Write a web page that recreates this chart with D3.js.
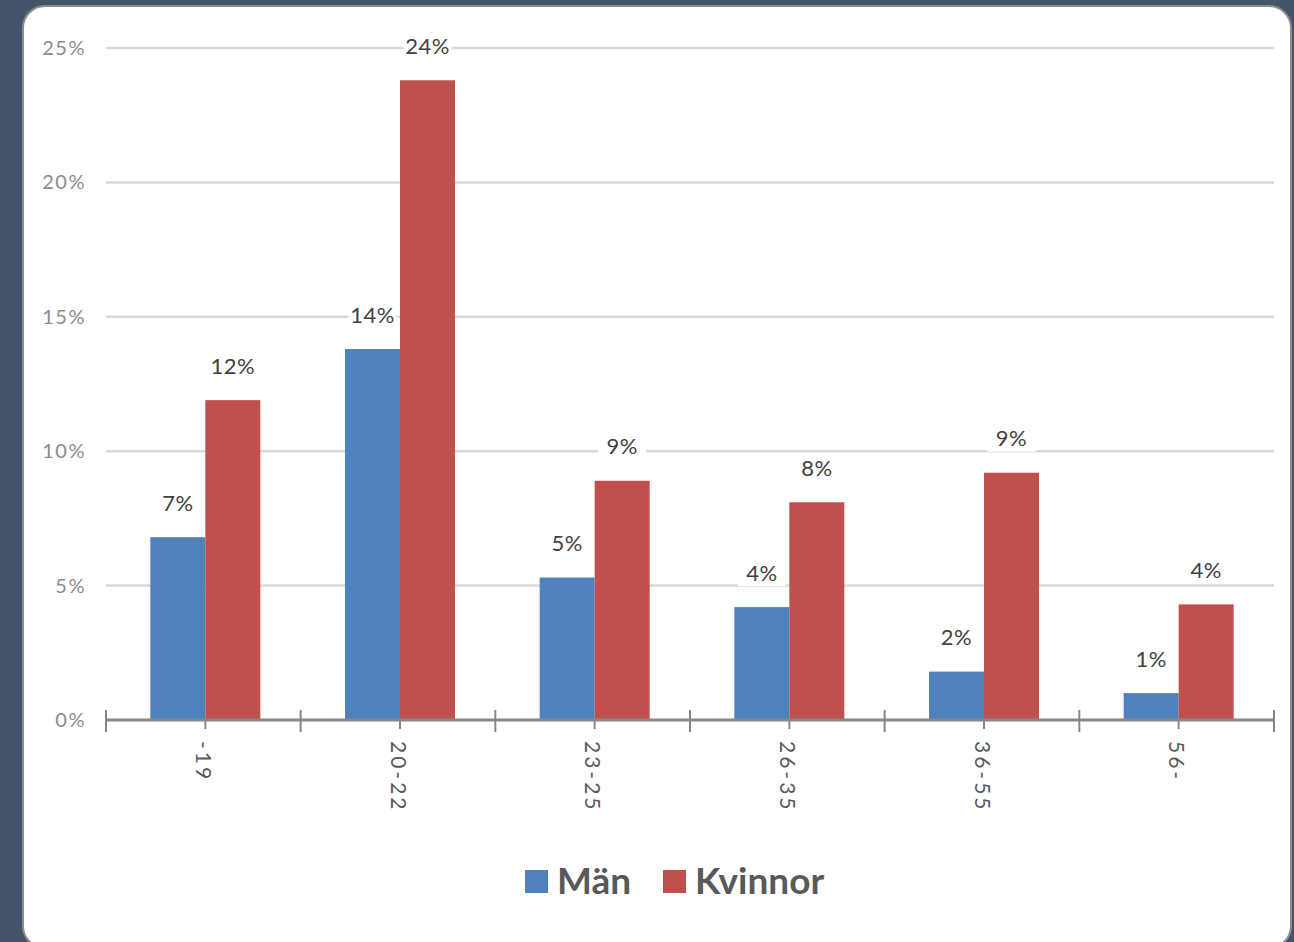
<!DOCTYPE html>
<html>
<head>
<meta charset="utf-8">
<script src="https://cdn.jsdelivr.net/npm/d3@7"></script>
<style>
	html, body { margin:0; padding:0; background:#44546a; }
	svg { display:block; }
</style>
</head>
<body>
<div id="chart"></div>
<script>
	// Data
	var categories = ['-19','20-22','23-25','26-35','36-55','56-'];
	var serieNames = ['Män','Kvinnor'];
	var manValues = [6.8, 13.8, 5.3, 4.2, 1.8, 1.0];
	var kvinnorValues = [11.9, 23.8, 8.9, 8.1, 9.2, 4.3];
	var manLabels = ['7%','14%','5%','4%','2%','1%'];
	var kvinnorLabels = ['12%','24%','9%','8%','9%','4%'];
	var yTicks = [0,5,10,15,20,25];
	var colors = ['#4f81bd','#c0504d'];

	var W = 1294, H = 942;
	var plot = { left: 106, right: 1274, top: 48, bottom: 720 };

	var svg = d3.select('#chart')
		.append('svg')
		.attr('width',W)
		.attr('height',H);

	// panel
	svg.append('rect')
		.attr('x',23).attr('y',6)
		.attr('width',1268).attr('height',942)
		.attr('rx',22).attr('ry',22)
		.attr('fill','#ffffff')
		.attr('stroke','#8c8c8c')
		.attr('stroke-width',2);

	var x = d3.scaleBand()
		.domain(categories)
		.range([plot.left, plot.right]);

	var y = d3.scaleLinear()
		.domain([0,25])
		.range([plot.bottom, plot.top]);

	var barW = 55;
	var font = 'Lato, "Open Sans", sans-serif';

	// gridlines
	svg.append('g').selectAll('line')
		.data(yTicks.filter(function(t){ return t>0; }))
		.enter().append('line')
		.attr('x1',plot.left).attr('x2',plot.right)
		.attr('y1',function(d){ return y(d); })
		.attr('y2',function(d){ return y(d); })
		.attr('stroke','#d9d9d9')
		.attr('stroke-width',2.5);

	// y labels
	svg.append('g').selectAll('text')
		.data(yTicks)
		.enter().append('text')
		.attr('x',86)
		.attr('y',function(d){ return y(d)+7; })
		.attr('text-anchor','end')
		.attr('font-family',font)
		.attr('font-size',20)
		.attr('letter-spacing',1.5)
		.attr('fill','#8c8c8c')
		.text(function(d){ return d+'%'; });

	// bars
	var series = [manValues, kvinnorValues];
	var labels = [manLabels, kvinnorLabels];
	series.forEach(function(vals, s){
		var g = svg.append('g');
		g.selectAll('rect')
			.data(vals)
			.enter().append('rect')
			.attr('x',function(d,i){ return x(categories[i]) + x.bandwidth()/2 + 2 + (s===0 ? -barW : 0); })
			.attr('y',function(d){ return y(d); })
			.attr('width',barW)
			.attr('height',function(d){ return plot.bottom - y(d); })
			.attr('fill',colors[s]);

		var lg = svg.append('g');
		var item = lg.selectAll('g')
			.data(vals)
			.enter().append('g')
			.attr('transform',function(d,i){
				var cx = x(categories[i]) + x.bandwidth()/2 + 2 + (s===0 ? -barW/2 : barW/2);
				return 'translate('+cx+','+(y(d)-34)+')';
			});
		item.append('rect')
			.attr('x',-24).attr('y',-13)
			.attr('width',48).attr('height',26)
			.attr('fill','#ffffff');
		item.append('text')
			.attr('text-anchor','middle')
			.attr('dy','0.35em')
			.attr('font-family',font)
			.attr('font-size',22)
			.attr('letter-spacing',0.5)
			.attr('fill','#404040')
			.text(function(d,i){ return labels[s][i]; });
	});

	// x axis
	var axis = svg.append('g');
	axis.append('line')
		.attr('x1',plot.left).attr('x2',plot.right)
		.attr('y1',plot.bottom).attr('y2',plot.bottom)
		.attr('stroke','#878787')
		.attr('stroke-width',3);

	var bounds = categories.map(function(c){ return x(c); }).concat([plot.right]);
	axis.selectAll('line.major')
		.data(bounds)
		.enter().append('line')
		.attr('class','major')
		.attr('x1',function(d){ return d; }).attr('x2',function(d){ return d; })
		.attr('y1',plot.bottom-10).attr('y2',plot.bottom+12)
		.attr('stroke','#878787')
		.attr('stroke-width',2);

	axis.selectAll('line.minor')
		.data(categories)
		.enter().append('line')
		.attr('class','minor')
		.attr('x1',function(d){ return x(d)+x.bandwidth()/2+2; })
		.attr('x2',function(d){ return x(d)+x.bandwidth()/2+2; })
		.attr('y1',plot.bottom).attr('y2',plot.bottom+9)
		.attr('stroke','#878787')
		.attr('stroke-width',2);

	axis.selectAll('text')
		.data(categories)
		.enter().append('text')
		.attr('transform',function(d){
			return 'translate('+(x(d)+x.bandwidth()/2)+','+(plot.bottom+21)+') rotate(90)';
		})
		.attr('text-anchor','start')
		.attr('dy','0.35em')
		.attr('font-family',font)
		.attr('font-size',21)
		.attr('letter-spacing',3)
		.attr('fill','#595959')
		.text(function(d){ return d; });

	// legend
	var legend = svg.append('g').attr('transform','translate(525,870)');
	var legX = [0, 138];
	serieNames.forEach(function(n, i){
		legend.append('rect')
			.attr('x',legX[i]).attr('y',0)
			.attr('width',23).attr('height',23)
			.attr('fill',colors[i]);
		legend.append('text')
			.attr('x',legX[i]+32).attr('y',24)
			.attr('font-family',font)
			.attr('font-size',37)
			.attr('font-weight','bold')
			.attr('fill','#595959')
			.text(n);
	});
</script>
</body>
</html>
